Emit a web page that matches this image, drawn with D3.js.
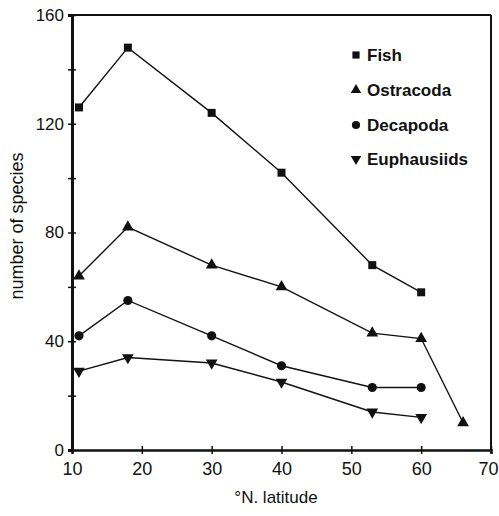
<!DOCTYPE html>
<html>
<head>
<meta charset="utf-8">
<script src="https://cdn.jsdelivr.net/npm/d3@7"></script>
<style>
  html, body { margin: 0; padding: 0; background: #fff; }
  svg { display: block; }
  text { font-family: "Liberation Sans", Arial, sans-serif; fill: #111; }
</style>
</head>
<body>
<svg id="chart" width="499" height="516"></svg>
<script>
// ---- data ----
const latitudes = [11, 18, 30, 40, 53, 60];
const latitudesOstracoda = [11, 18, 30, 40, 53, 60, 66];
const fish = [126, 148, 124, 102, 68, 58];
const ostracoda = [64, 82, 68, 60, 43, 41, 10];
const decapoda = [42, 55, 42, 31, 23, 23];
const euphausiids = [29, 34, 32, 25, 14, 12];
const seriesNames = ["Fish", "Ostracoda", "Decapoda", "Euphausiids"];
const xTicks = [10, 20, 30, 40, 50, 60, 70];
const yTicksMajor = [0, 40, 80, 120, 160];
const yTicksMinor = [20, 60, 100, 140];

const series = [
  { name: seriesNames[0], xs: latitudes, ys: fish, sym: d3.symbolSquare, rot: 0, size: 64 },
  { name: seriesNames[1], xs: latitudesOstracoda, ys: ostracoda, sym: d3.symbolTriangle, rot: 0, size: 60 },
  { name: seriesNames[2], xs: latitudes, ys: decapoda, sym: d3.symbolCircle, rot: 0, size: 66 },
  { name: seriesNames[3], xs: latitudes, ys: euphausiids, sym: d3.symbolTriangle, rot: 180, size: 60 }
];

const svg = d3.select("#chart");
const x = d3.scaleLinear().domain([10, 70]).range([72, 491]);
const y = d3.scaleLinear().domain([0, 160]).range([450, 15]);
const ink = "#111";

// frame top and right
svg.append("line").attr("x1", x(10)).attr("x2", x(70)).attr("y1", y(160)).attr("y2", y(160))
  .attr("stroke", ink).attr("stroke-width", 2);
svg.append("line").attr("x1", x(70)).attr("x2", x(70)).attr("y1", y(160)).attr("y2", y(0))
  .attr("stroke", ink).attr("stroke-width", 2);

// left axis
const yAxis = d3.axisLeft(y).tickValues(yTicksMajor).tickSize(4).tickPadding(6);
const gy = svg.append("g").attr("transform", `translate(${x(10)},0)`).call(yAxis);
gy.select(".domain").attr("stroke", ink).attr("stroke-width", 3);
gy.selectAll(".tick line").attr("stroke", ink).attr("stroke-width", 1.5).attr("x1", 4);
gy.selectAll(".tick text").style("font-size", "17px").attr("fill", ink).attr("x", -8);
const gyMinor = svg.append("g").attr("transform", `translate(${x(10)},0)`)
  .call(d3.axisLeft(y).tickValues(yTicksMinor).tickSize(4).tickFormat(""));
gyMinor.select(".domain").remove();
gyMinor.selectAll(".tick line").attr("stroke", ink).attr("stroke-width", 1.5).attr("x1", 4);

// bottom axis
const xAxis = d3.axisBottom(x).tickValues(xTicks).tickSize(4).tickPadding(8);
const gx = svg.append("g").attr("transform", `translate(0,${y(0)})`).call(xAxis);
gx.select(".domain").attr("stroke", ink).attr("stroke-width", 2.5);
gx.selectAll(".tick line").attr("stroke", ink).attr("stroke-width", 1.5).attr("y1", -4);
gx.selectAll(".tick text").style("font-size", "18px").attr("fill", ink)
  .attr("dx", d => d === 70 ? -3 : 0);

// lines and markers
const line = d3.line().x(d => x(d[0])).y(d => y(d[1]));
series.forEach(s => {
  const pts = s.xs.map((v, i) => [v, s.ys[i]]);
  svg.append("path").datum(pts).attr("d", line)
    .attr("fill", "none").attr("stroke", ink).attr("stroke-width", 1.4);
  svg.selectAll(null).data(pts).enter().append("path")
    .attr("d", d3.symbol().type(s.sym).size(s.size))
    .attr("transform", d => `translate(${x(d[0])},${y(d[1])}) rotate(${s.rot})`)
    .attr("fill", ink);
});

// legend
const legendY = [55, 90, 125, 159];
series.forEach((s, i) => {
  svg.append("path")
    .attr("d", d3.symbol().type(s.sym).size(s.size * 0.8))
    .attr("transform", `translate(356,${legendY[i]}) rotate(${s.rot})`)
    .attr("fill", ink);
  svg.append("text").attr("x", 367).attr("y", legendY[i] + 6)
    .style("font-size", "17px").style("font-weight", "bold").text(s.name);
});

// axis titles
svg.append("text").attr("transform", "translate(23,226) rotate(-90)")
  .attr("text-anchor", "middle").style("font-size", "18px").text("number of species");
svg.append("text").attr("x", 276).attr("y", 503)
  .attr("text-anchor", "middle").style("font-size", "17px").text("°N. latitude");
</script>
</body>
</html>
